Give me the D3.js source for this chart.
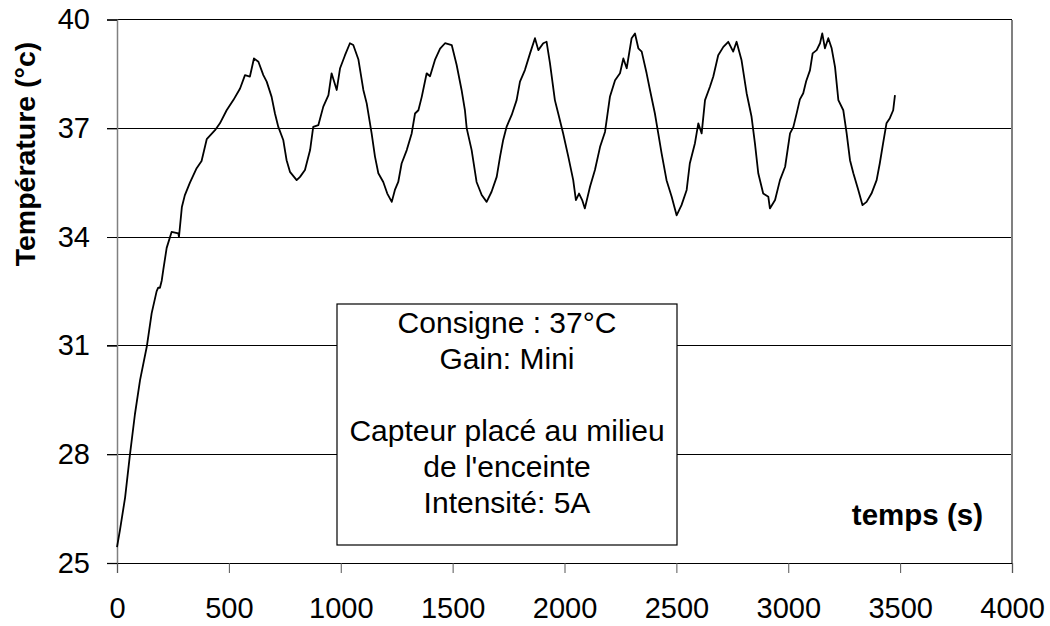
<!DOCTYPE html>
<html>
<head>
<meta charset="utf-8">
<script src="https://cdn.jsdelivr.net/npm/d3@7"></script>
<style>
  html, body { margin: 0; padding: 0; background: #fff; }
  svg { display: block; font-family: "Liberation Sans", Arial, sans-serif; }
</style>
</head>
<body>
<svg id="chart" width="1050" height="626"></svg>
<script>
// ---- data ----
const timeSec = [0,13,36,58,80,103,133,155,177,184,192,200,207,222,244,274,277,290,303,326,356,378,401,438,460,490,520,550,572,594,612,632,654,669,691,706,721,743,758,773,803,818,840,863,877,900,922,945,959,982,997,1019,1041,1056,1079,1101,1116,1138,1153,1168,1190,1208,1228,1242,1257,1272,1295,1317,1332,1347,1362,1384,1399,1421,1444,1466,1496,1518,1540,1555,1563,1585,1607,1630,1652,1674,1697,1712,1726,1741,1764,1786,1801,1823,1846,1868,1883,1905,1920,1935,1957,1972,1994,2017,2039,2051,2065,2079,2091,2114,2136,2159,2181,2203,2226,2248,2263,2278,2300,2315,2330,2345,2367,2382,2404,2419,2434,2456,2479,2501,2523,2546,2560,2583,2598,2613,2628,2650,2665,2687,2710,2732,2754,2769,2791,2814,2836,2851,2866,2888,2911,2918,2941,2963,2986,3008,3023,3037,3052,3067,3080,3097,3109,3127,3142,3152,3164,3179,3194,3209,3224,3246,3261,3276,3291,3313,3332,3350,3372,3395,3409,3424,3439,3454,3469,3477];
const temperature = [25.44,25.9,26.8,28.0,29.1,30.05,30.97,31.9,32.5,32.6,32.6,32.8,33.1,33.7,34.14,34.1,34.0,34.83,35.15,35.5,35.9,36.1,36.7,36.95,37.14,37.5,37.78,38.1,38.47,38.43,38.93,38.84,38.47,38.29,37.87,37.41,37.04,36.68,36.12,35.8,35.57,35.66,35.85,36.4,37.04,37.09,37.6,37.92,38.52,38.06,38.66,39.02,39.35,39.3,38.9,38.06,37.69,36.86,36.22,35.76,35.52,35.2,34.97,35.3,35.52,36.03,36.4,36.86,37.41,37.5,37.87,38.52,38.44,38.89,39.2,39.35,39.3,38.75,38.06,37.5,37.0,36.4,35.52,35.16,34.97,35.25,35.66,36.22,36.68,37.04,37.37,37.78,38.29,38.61,39.07,39.49,39.16,39.35,39.39,38.8,37.78,37.41,36.86,36.22,35.57,35.02,35.2,35.02,34.79,35.39,35.85,36.49,36.9,37.87,38.33,38.52,38.93,38.66,39.49,39.62,39.21,39.12,38.52,38.06,37.41,36.86,36.31,35.57,35.11,34.6,34.88,35.3,36.03,36.59,37.14,36.86,37.78,38.15,38.43,39.02,39.25,39.39,39.12,39.39,38.89,37.97,37.32,36.59,35.76,35.2,35.11,34.79,35.02,35.57,35.94,36.86,37.04,37.4,37.8,37.97,38.3,38.6,39.07,39.16,39.35,39.62,39.21,39.49,39.21,38.7,37.78,37.5,36.86,36.12,35.76,35.3,34.88,34.97,35.2,35.57,36.03,36.59,37.14,37.28,37.5,37.92];
const xTicks = [0,500,1000,1500,2000,2500,3000,3500,4000];
const yTicks = [25,28,31,34,37,40];
const yTitle = "Température (°c)";
const xTitle = "temps (s)";
const noteLines = ["Consigne : 37°C", "Gain: Mini", "", "Capteur placé au milieu", "de l'enceinte", "Intensité: 5A"];

// ---- layout ----
const L = 117, R = 1012, T = 19.7, B = 563;
const svg = d3.select("#chart");
const x = d3.scaleLinear().domain([0, 4000]).range([L, R]);
const y = d3.scaleLinear().domain([25, 40]).range([B, T]);

// gridlines (extend left as tick marks)
svg.append("g").selectAll("line").data(yTicks.filter(v => v > 25)).join("line")
  .attr("x1", L - 10).attr("x2", R)
  .attr("y1", d => y(d)).attr("y2", d => y(d))
  .attr("stroke", "#000").attr("stroke-width", 1).attr("shape-rendering", "crispEdges");

// right border
svg.append("line").attr("x1", R).attr("x2", R).attr("y1", T).attr("y2", B)
  .attr("stroke", "#808080").attr("stroke-width", 1.2).attr("shape-rendering", "crispEdges");

// y axis
const yAxis = d3.axisLeft(y).tickValues(yTicks).tickSize(10).tickPadding(17).tickFormat(d3.format("d"));
const gy = svg.append("g").attr("transform", `translate(${L},0)`).call(yAxis);
gy.select(".domain").attr("stroke", "#808080").attr("stroke-width", 1.5);
gy.selectAll(".tick line").attr("stroke", "#000");
gy.selectAll(".tick text").attr("font-size", 29).attr("font-family", "Liberation Sans, Arial, sans-serif").attr("fill", "#000");

// x axis
const xAxis = d3.axisBottom(x).tickValues(xTicks).tickSize(10).tickPadding(24).tickFormat(d3.format("d"));
const gx = svg.append("g").attr("transform", `translate(0,${B})`).call(xAxis);
gx.select(".domain").attr("stroke", "#000").attr("stroke-width", 1.2);
gx.selectAll(".tick line").attr("stroke", "#555");
gx.selectAll(".tick text").attr("font-size", 29).attr("font-family", "Liberation Sans, Arial, sans-serif").attr("fill", "#000");

// annotation box
svg.append("rect").attr("x", 337).attr("y", 304).attr("width", 340).attr("height", 241)
  .attr("fill", "#fff").attr("stroke", "#000").attr("stroke-width", 1.2);
const nt = svg.append("text").attr("text-anchor", "middle").attr("font-size", 30).attr("fill", "#000");
noteLines.forEach((s, i) => {
  nt.append("tspan").attr("x", 507).attr("y", 333 + i * 36).text(s);
});

// data line
const line = d3.line().x((d, i) => x(timeSec[i])).y((d, i) => y(temperature[i]));
svg.append("path").datum(temperature).attr("d", line)
  .attr("fill", "none").attr("stroke", "#000").attr("stroke-width", 1.8).attr("stroke-linejoin", "round");

// titles
svg.append("text").attr("transform", `translate(35,154) rotate(-90)`).attr("text-anchor", "middle")
  .attr("font-size", 28.5).attr("font-weight", "bold").attr("fill", "#000").text(yTitle);
svg.append("text").attr("x", 983).attr("y", 525).attr("text-anchor", "end")
  .attr("font-size", 29.5).attr("font-weight", "bold").attr("fill", "#000").text(xTitle);
</script>
</body>
</html>
